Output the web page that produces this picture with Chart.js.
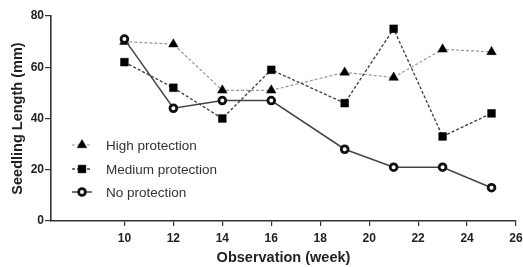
<!DOCTYPE html>
<html>
<head>
<meta charset="utf-8">
<script src="https://cdn.jsdelivr.net/npm/chart.js@4"></script>
<style>
  html, body { margin: 0; padding: 0; background: #fff; }
  #wrap { width: 523px; height: 267px; }
</style>
</head>
<body>
<div id="wrap"><canvas id="chart"></canvas></div>
<script>
// Données
const weeks = [10, 12, 14, 16, 19, 21, 23, 25];
const highProtection   = [70, 69, 51, 51, 58, 56, 67, 66];
const mediumProtection = [62, 52, 40, 59, 46, 75, 33, 42];
const noProtection     = [71, 44, 47, 47, 28, 21, 21, 13];
const xTicks = [10, 12, 14, 16, 18, 20, 22, 24, 26];
const yTicks = [0, 20, 40, 60, 80];
const seriesNames = ['High protection', 'Medium protection', 'No protection'];

const FONT = '"Liberation Sans", Arial, sans-serif';
const AXIS = '#333';

const toPoints = vals => vals.map((v, i) => ({ x: weeks[i], y: v }));

// Légende dessinée à la main, à l'intérieur de la zone du graphique
const insideLegend = {
  id: 'insideLegend',
  afterDraw(chart) {
    const ctx = chart.ctx;
    const x0 = 72, x1 = 92, mx = 82, tx = 106;
    const rows = [145, 169, 192];
    chart.data.datasets.forEach((ds, i) => {
      const y = rows[i];
      ctx.save();
      ctx.strokeStyle = ds.borderColor;
      ctx.lineWidth = ds.borderWidth;
      ctx.setLineDash(ds.borderDash || []);
      ctx.beginPath(); ctx.moveTo(x0, y); ctx.lineTo(x1, y); ctx.stroke();
      ctx.setLineDash([]);
      // drawPoint utilise le style courant du contexte
      ctx.fillStyle = ds.pointBackgroundColor;
      ctx.strokeStyle = ds.pointBorderColor;
      ctx.lineWidth = ds.pointBorderWidth;
      Chart.helpers.drawPoint(ctx, {
        pointStyle: ds.pointStyle,
        radius: ds.pointRadius,
        borderWidth: ds.pointBorderWidth,
        rotation: 0
      }, mx, y);
      ctx.fillStyle = '#333';
      ctx.font = '13.5px ' + FONT;
      ctx.textBaseline = 'middle';
      ctx.fillText(ds.label, tx, y + 1);
      ctx.restore();
    });
  }
};

new Chart(document.getElementById('chart'), {
  type: 'scatter',
  data: {
    datasets: [
      {
        label: seriesNames[0],
        data: toPoints(highProtection),
        showLine: true,
        borderColor: '#999',
        borderWidth: 1.2,
        borderDash: [3, 2],
        pointStyle: 'triangle',
        pointRadius: 5.5,
        pointBackgroundColor: '#000',
        pointBorderColor: '#000',
        pointBorderWidth: 0.5,
        order: 2
      },
      {
        label: seriesNames[1],
        data: toPoints(mediumProtection),
        showLine: true,
        borderColor: '#444',
        borderWidth: 1.4,
        borderDash: [3, 2],
        pointStyle: 'rect',
        pointRadius: 5.5,
        pointBackgroundColor: '#000',
        pointBorderColor: '#000',
        pointBorderWidth: 0.5,
        order: 1
      },
      {
        label: seriesNames[2],
        data: toPoints(noProtection),
        showLine: true,
        borderColor: '#444',
        borderWidth: 1.5,
        pointStyle: 'circle',
        pointRadius: 3.4,
        pointBackgroundColor: '#fff',
        pointBorderColor: '#111',
        pointBorderWidth: 2.8,
        order: 0
      }
    ]
  },
  options: {
    responsive: true,
    maintainAspectRatio: false,
    animation: false,
    layout: { padding: { top: 16, right: 7, left: 0, bottom: 0 } },
    plugins: {
      legend: { display: false },
      tooltip: { enabled: false }
    },
    scales: {
      x: {
        type: 'linear',
        min: 7,
        max: 26,
        afterBuildTicks: s => { s.ticks = xTicks.map(v => ({ value: v })); },
        // zone du graphique fixée : 51 → 516 en x, 16 → 221 en y
        afterFit: s => { s.height = 46; s.paddingLeft = 0; s.paddingRight = 0; },
        grid: { drawOnChartArea: false, drawTicks: true, tickLength: 5, color: AXIS, lineWidth: 1.2 },
        border: { display: true, color: AXIS, width: 1.6 },
        ticks: { color: '#222', font: { family: FONT, size: 12, weight: 'bold' }, padding: 5, maxRotation: 0 },
        title: { display: true, text: 'Observation (week)', color: '#222', font: { family: FONT, size: 14.5, weight: 'bold' }, padding: { top: 7, bottom: 0 } }
      },
      y: {
        min: 0,
        max: 80,
        afterBuildTicks: s => { s.ticks = yTicks.map(v => ({ value: v })); },
        afterFit: s => { s.width = 51; s.paddingTop = 0; s.paddingBottom = 0; },
        grid: { drawOnChartArea: false, drawTicks: true, tickLength: 6, color: AXIS, lineWidth: 1.2 },
        border: { display: true, color: AXIS, width: 1.6 },
        ticks: { color: '#222', font: { family: FONT, size: 12, weight: 'bold' }, padding: 1 },
        title: { display: true, text: 'Seedling Length (mm)', color: '#222', font: { family: FONT, size: 14.5, weight: 'bold' }, padding: { top: 9, bottom: 4 } }
      }
    }
  },
  plugins: [insideLegend]
});
</script>
</body>
</html>
